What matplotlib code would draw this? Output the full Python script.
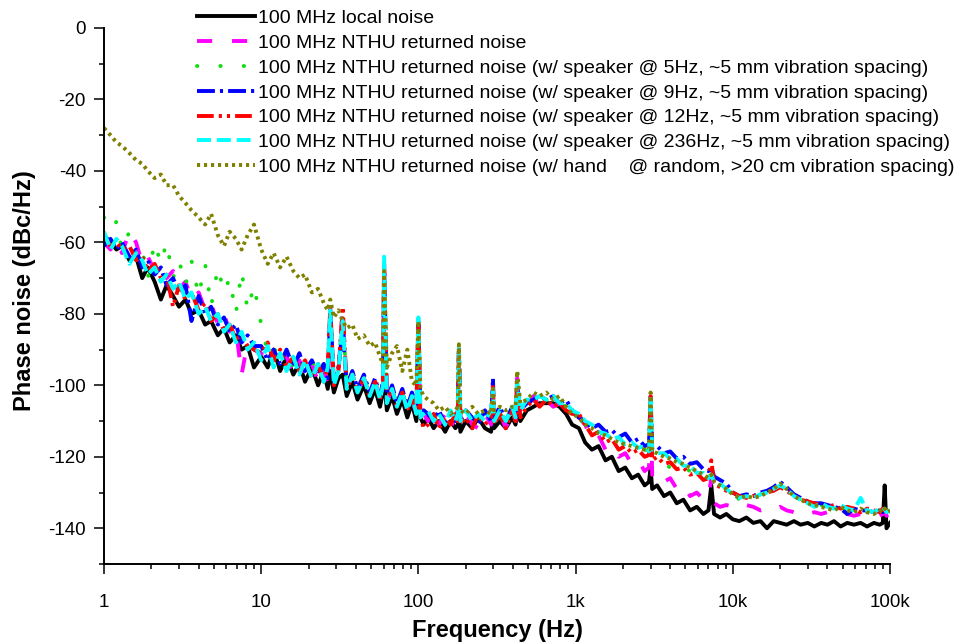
import matplotlib
matplotlib.use('Agg')
import matplotlib.pyplot as plt
from matplotlib.ticker import FixedLocator, FixedFormatter, LogLocator, NullFormatter, MultipleLocator

plt.rcParams['font.family'] = ['Liberation Sans', 'DejaVu Sans']
plt.rcParams['axes.unicode_minus'] = False

# offset frequency (Hz), one row per decade
freq = [
    1.0, 1.1, 1.2, 1.3, 1.45, 1.6, 1.75, 1.9, 2.1, 2.3, 2.5, 2.75, 3.0, 3.3, 3.6, 4.0, 4.4, 4.8, 5.3, 5.8, 6.3, 6.9, 7.5, 8.2, 9.0,
    10, 11, 12, 13.2, 14.5, 16, 17.5, 19, 21, 23, 25, 26.5, 27.5, 29, 31, 33, 35, 38, 41, 45, 49, 53, 57, 59.5, 60.5, 63, 68, 73, 79, 85, 91, 97, 100, 103, 108,
    115, 125, 135, 148, 160, 172, 178, 181, 185, 200, 220, 240, 265, 290, 298, 303, 330, 360, 395, 415, 425, 445, 490, 540, 590, 650, 720, 790, 870, 950,
    1050, 1150, 1270, 1400, 1550, 1700, 1880, 2070, 2280, 2500, 2750, 2930, 3000, 3070, 3300, 3650, 4000, 4400, 4850, 5350, 5900, 6500, 7000, 7300, 7600, 8300, 9100,
    10000, 11000, 12200, 13500, 15000, 16500, 18200, 20000, 22000, 24500, 27000, 30000, 33000, 36500, 40000, 44000, 48500, 53500, 59000, 65000, 71500, 79000, 86000, 90000, 92500, 95000, 100000,
]

# phase noise (dBc/Hz)
local_noise = [
    -58, -60, -62, -61, -65, -64, -70, -67, -71, -76, -72, -75, -78, -76, -80, -79, -83, -82, -86, -84, -88, -86, -90, -89, -95,
    -92, -95, -90, -96, -92, -97, -94, -99, -95, -100, -96, -101, -96, -102, -98, -97, -103, -99, -104, -100, -105, -101, -106, -102, -98, -107, -103, -108, -104, -109, -105, -110, -104, -109, -111,
    -109, -112, -110, -113, -110, -112, -111, -108, -113, -110, -112, -109, -112, -113, -109, -112, -110, -112, -109, -111, -107, -110, -107, -106, -105, -105, -105, -106, -108, -111,
    -112, -116, -118, -117, -121, -120, -124, -123, -126, -125, -128, -127, -123, -129, -128, -131, -130, -133, -132, -135, -134, -136, -135, -128, -136, -137, -136,
    -137.5, -138, -137, -138.5, -138, -140, -138, -138.5, -139, -138, -139, -138.5, -139.5, -138.5, -139, -138, -139.5, -138.5, -139, -138.5, -139.5, -138.5, -139, -138.5, -128, -140, -138.5,
]
returned = [
    -60, -62, -59, -63, -57, -60, -66, -64, -68, -66, -70, -68, -73, -71, -76, -74, -79, -77, -83, -80, -85, -84, -97, -88, -90,
    -91, -94, -90, -95, -92, -97, -93, -98, -94, -99, -95, -100, -80, -99, -96, -79, -101, -97, -102, -98, -103, -99, -104, -100, -65, -105, -101, -106, -102, -107, -104, -108, -82, -109, -108,
    -110, -107, -111, -108, -112, -109, -110, -90, -111, -108, -111, -112, -108, -111, -100, -111, -108, -112, -107, -110, -98, -109, -106, -103, -106, -104, -106, -105, -107, -108,
    -109, -111, -115, -114, -118, -117, -120, -119, -122, -121, -124, -123, -104, -125, -124, -127, -126, -129, -128, -131, -130, -132, -131, -126, -133, -134, -133.5,
    -134, -133, -133.5, -134, -135, -134.5, -135, -134, -135, -135.5, -135, -136, -135.5, -136, -135.5, -136, -135.5, -136, -136.5, -136, -136.5, -136, -136.5, -136, -135, -136.5, -136,
]
spk_5hz = [
    -53, -60, -54, -62, -57, -64, -62, -70, -60, -66, -60, -70, -65, -72, -65, -75, -66, -78, -67, -74, -70, -80, -68, -79, -72,
    -83, -91, -89, -94, -90, -95, -92, -96, -93, -97, -94, -98, -80, -99, -95, -80, -100, -97, -101, -98, -102, -99, -103, -98, -67, -104, -101, -105, -102, -106, -103, -107, -83, -108, -107,
    -109, -108, -110, -109, -110, -109, -108, -90, -109, -110, -109, -110, -108, -110, -100, -109, -108, -110, -107, -108, -96, -107, -105, -103, -104, -104, -105, -104, -106, -107,
    -109, -111, -112, -113, -114, -115, -116, -116.5, -117, -117.5, -118, -118.5, -103, -119, -119.5, -120, -123.5, -124, -123, -124, -124.5, -125, -126, -124, -127, -128, -129,
    -130, -132, -131, -131.5, -130.5, -130, -129, -128, -129.5, -131, -132, -132.5, -133, -133.5, -134, -134, -134.5, -135, -134.5, -135, -135.5, -137, -135.5, -136, -135, -136, -135.5,
]
spk_9hz = [
    -61, -59, -62, -60, -64, -62, -67, -65, -69, -67, -72, -70, -74, -72, -82, -75, -80, -78, -83, -81, -85, -83, -88, -86, -89,
    -89, -93, -90, -94, -90, -95, -91, -96, -93, -97, -94, -98, -79, -99, -95, -84, -100, -96, -101, -97, -102, -98, -103, -99, -66, -104, -100, -105, -101, -106, -102, -107, -82, -108, -107,
    -108, -110, -107, -111, -108, -110, -107, -90, -110, -107, -109, -111, -107, -110, -98, -109, -106, -110, -106, -109, -100, -107, -105, -104, -103, -104, -103, -105, -104, -107,
    -109, -110, -112, -111, -113, -112.5, -114.5, -113.5, -116, -115, -117, -116.5, -103, -117.5, -117, -119, -118.5, -120.5, -120, -122, -121.5, -123.5, -124, -123, -125.5, -126.5, -127.5,
    -130, -131, -130.5, -131, -130, -129.5, -128.5, -127, -128.5, -130.5, -131.5, -132.5, -133, -133, -133.5, -134, -134.5, -136, -134.5, -135, -135, -135.5, -135, -135.5, -135, -136, -135.5,
]
spk_12hz = [
    -58, -61, -60, -62, -61, -65, -64, -68, -66, -70, -69, -78, -72, -76, -74, -79, -77, -82, -80, -85, -83, -87, -86, -89, -90,
    -91, -88, -93, -90, -95, -92, -96, -93, -98, -94, -99, -95, -78, -100, -96, -78, -101, -97, -102, -98, -103, -99, -104, -100, -66, -105, -101, -106, -102, -107, -103, -108, -82, -109, -112,
    -111, -108, -112, -109, -111, -108, -110, -90, -111, -109, -112, -108, -111, -109, -100, -111, -108, -112, -107, -110, -99, -109, -106, -104, -106, -104, -106, -105, -107, -108,
    -108, -111, -114, -113, -116, -115, -118, -117, -119, -118, -120, -119.5, -103, -121, -120, -122, -121.5, -123.5, -123, -125, -124.5, -126.5, -126, -121, -127.5, -128.5, -129.5,
    -130, -131, -131.5, -131, -130.5, -130, -129.5, -128.5, -129.5, -131, -132, -132.5, -133, -133.5, -134, -133.5, -134.5, -134, -134.5, -135.5, -134.5, -135, -135.5, -134.5, -135, -135.5, -135,
]
spk_236hz = [
    -57, -62, -59, -61, -66, -63, -65, -69, -67, -71, -69, -73, -71, -76, -74, -80, -78, -82, -80, -85, -83, -88, -85, -90, -88,
    -93, -89, -95, -91, -96, -92, -97, -93, -98, -94, -99, -95, -79, -100, -96, -82, -101, -97, -102, -98, -103, -99, -104, -100, -64, -105, -101, -106, -102, -107, -103, -108, -81, -109, -108,
    -107, -110, -108, -111, -107, -110, -108, -89, -110, -107, -110, -108, -110, -107, -101, -110, -107, -110, -106, -109, -99, -107, -104, -104, -103, -104, -103, -105, -105, -107,
    -108, -110, -111, -113, -113.5, -115, -114.5, -116.5, -116, -117.5, -117, -118.5, -103, -118, -119, -119, -120.5, -120.5, -122.5, -122.5, -124.5, -124.5, -126, -125, -127, -127.5, -129,
    -130.5, -131.5, -131, -131.5, -130.5, -130, -129, -128, -129, -131, -132, -133, -134, -133, -134, -134.5, -133.5, -134.5, -135, -131.5, -135, -135.5, -134.5, -135, -134.5, -135.5, -135,
]
hand = [
    -28, -30, -32, -33, -35, -37, -38, -40, -42, -41, -44, -44, -47, -49, -51, -53, -55, -52, -58, -61, -57, -59, -62, -58, -55,
    -62, -66, -63, -67, -64, -68, -70, -69, -74, -73, -77, -79, -76, -81, -79, -82, -84, -83, -87, -86, -89, -88, -92, -94, -68, -95, -91, -89, -96, -90, -99, -100, -82, -101, -103,
    -104, -105, -107, -106, -108, -107, -106, -88.5, -107, -108, -106, -108, -107, -108, -101, -107, -106, -107, -106, -106, -96, -105, -104, -102, -103, -102, -104, -103, -106, -108,
    -109, -111, -112, -113.5, -114, -115, -116, -116.5, -117, -117.5, -118, -118, -102, -118.5, -119, -120, -120.5, -121.5, -122, -123, -124, -125, -126, -125, -127, -128, -129,
    -130.5, -131.5, -131, -131.5, -131, -130, -129, -127.5, -129, -131, -132, -133, -133.5, -134, -134.5, -135, -134, -135, -135.5, -134.5, -135.5, -136, -135, -135.5, -134.5, -135.5, -135,
]

labels = [
    '100 MHz local noise',
    '100 MHz NTHU returned noise',
    '100 MHz NTHU returned noise (w/ speaker @ 5Hz, ~5 mm vibration spacing)',
    '100 MHz NTHU returned noise (w/ speaker @ 9Hz, ~5 mm vibration spacing)',
    '100 MHz NTHU returned noise (w/ speaker @ 12Hz, ~5 mm vibration spacing)',
    '100 MHz NTHU returned noise (w/ speaker @ 236Hz, ~5 mm vibration spacing)',
    '100 MHz NTHU returned noise (w/ hand    @ random, >20 cm vibration spacing)',
]
series = [local_noise, returned, spk_5hz, spk_9hz, spk_12hz, spk_236hz, hand]
colors = ['#000000', '#FF00FF', '#11DD11', '#0000FF', '#FF0000', '#00FFFF', '#808000']
# dash patterns in units of line width
dashes = [None, (3.9, 5.1), (0.1, 5.9), (4.6, 1.3, 0.8, 1.3), (4.3, 1.3, 0.8, 1.3, 0.8, 1.3), (3.6, 1.5), (0.8, 1.0)]

fig = plt.figure(figsize=(9.6, 6.42), dpi=100)
ax = fig.add_axes([104/960, 1 - 564/642, 786/960, 536/642])

for vals, c, d, lab in zip(series, colors, dashes, labels):
    if d is None:
        ax.plot(freq, vals, color=c, lw=2.8, label=lab)
    else:
        ax.plot(freq, vals, color=c, lw=2.8, linestyle=(0, d),
                dash_capstyle='round' if d[0] < 0.5 else 'butt', label=lab)

ax.set_xscale('log')
ax.set_xlim(1, 1e5)
ax.set_ylim(-150, 0)
ax.xaxis.set_major_locator(FixedLocator([1, 10, 100, 1e3, 1e4, 1e5]))
ax.xaxis.set_major_formatter(FixedFormatter(['1', '10', '100', '1k', '10k', '100k']))
ax.xaxis.set_minor_locator(LogLocator(base=10, subs=range(2, 10)))
ax.xaxis.set_minor_formatter(NullFormatter())
ax.yaxis.set_major_locator(MultipleLocator(20))
ax.yaxis.set_minor_locator(MultipleLocator(10))

for s in ['top', 'right']:
    ax.spines[s].set_visible(False)
for s in ['left', 'bottom']:
    ax.spines[s].set_linewidth(1.4)

ax.tick_params(which='major', direction='out', length=7, width=1.1, labelsize=13.5)
ax.tick_params(which='minor', direction='out', length=3.5, width=1.1)
ax.tick_params(axis='x', which='major', pad=14.5)
ax.tick_params(axis='y', which='major', pad=6)

ax.set_xlabel('Frequency (Hz)', fontsize=17, fontweight='bold', labelpad=6)
ax.set_ylabel('Phase noise (dBc/Hz)', fontsize=17, fontweight='bold')
ax.yaxis.set_label_coords(-0.087, 0.51)

fig.legend(loc='upper left', bbox_to_anchor=(197/960, 1 - 9.5/642), frameon=False,
           fontsize=14, handlelength=3.0, handletextpad=0.15, labelspacing=0.37,
           borderpad=0, borderaxespad=0)

fig.savefig('out.png', dpi=100)
